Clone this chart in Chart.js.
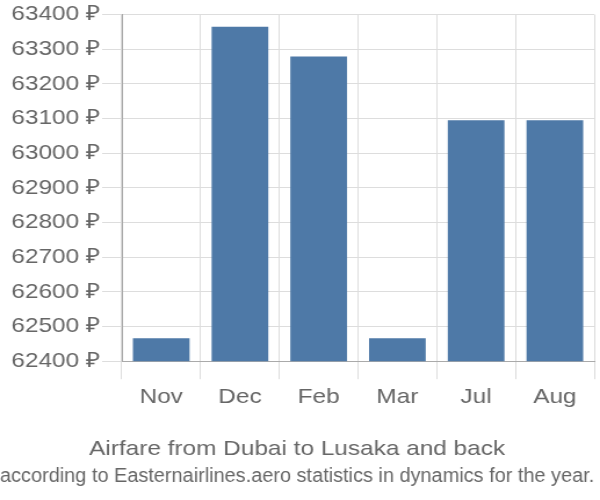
<!DOCTYPE html>
<html>
<head>
<meta charset="utf-8">
<script src="https://cdn.jsdelivr.net/npm/chart.js@4/dist/chart.umd.min.js"></script>
<style>
html,body{margin:0;padding:0;background:#fff;}
#wrap{width:600px;height:500px;overflow:hidden;}
#c{display:block;width:600px;height:500px;}
</style>
</head>
<body>
<div id="wrap"><canvas id="c" width="517" height="500" style="width:600px;height:500px;"></canvas></div>
<script>
const categories = ["Nov", "Dec", "Feb", "Mar", "Jul", "Aug"];
const prices = [62466, 63365, 63279, 62466, 63095, 63095];
const yTicks = [62400, 62500, 62600, 62700, 62800, 62900, 63000, 63100, 63200, 63300, 63400];
const titleText = "Airfare from Dubai to Lusaka and back";
const subtitleText = "according to Easternairlines.aero statistics in dynamics for the year.";

const FONT = 'Liberation Sans, Arial, sans-serif';

new Chart(document.getElementById('c'), {
  type: 'bar',
  data: {
    labels: categories,
    datasets: [{
      data: prices,
      backgroundColor: '#4e79a7',
      borderWidth: 0
    }]
  },
  options: {
    responsive: false,
    animation: false,
    devicePixelRatio: 1,
    layout: { padding: { left: 0, right: 5, top: 6, bottom: 0 } },
    plugins: {
      legend: { display: false },
      tooltip: { enabled: false },
      title: {
        display: true,
        text: titleText,
        position: 'bottom',
        weight: 1000,
        color: '#666',
        font: { family: FONT, size: 21, weight: 'normal' },
        padding: { top: 22, bottom: 1 }
      },
      subtitle: {
        display: true,
        text: subtitleText,
        position: 'bottom',
        weight: 3000,
        color: '#666',
        font: { family: FONT, size: 19.5, weight: 'normal' },
        padding: { top: 2, bottom: 12 }
      }
    },
    scales: {
      x: {
        grid: { color: '#dddddd', offset: true, tickLength: 18 },
        border: { color: '#aaaaaa' },
        ticks: { color: '#666', font: { family: FONT, size: 21 }, padding: 5 }
      },
      y: {
        min: yTicks[0],
        max: yTicks[yTicks.length - 1],
        afterBuildTicks: (axis) => { axis.ticks = yTicks.map(v => ({ value: v })); },
        afterFit: (axis) => { axis.width = 105; },
        grid: { color: '#dddddd', tickLength: 17 },
        border: { color: '#aaaaaa' },
        ticks: {
          color: '#666',
          font: { family: FONT, size: 21 },
          padding: 2,
          callback: (v) => v + ' ₽'
        }
      }
    }
  }
});
</script>
</body>
</html>
